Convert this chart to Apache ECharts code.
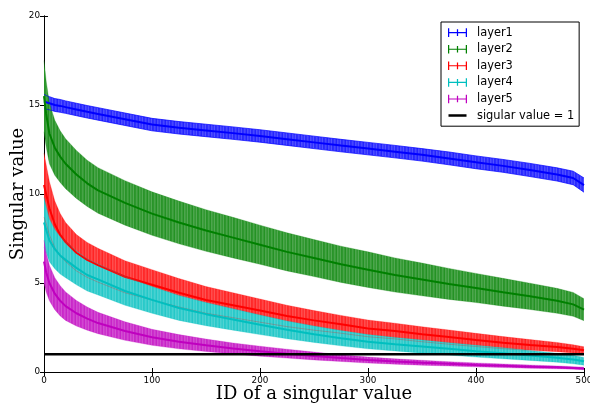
<!DOCTYPE html>
<html>
<head>
<meta charset="utf-8">
<script src="https://cdn.jsdelivr.net/npm/echarts@6/dist/echarts.min.js"></script>
<style>
  html, body { margin: 0; padding: 0; background: #fff; }
  #chart { width: 590px; height: 403px; }
</style>
</head>
<body>
<div id="chart"></div>
<script>
const ids = [0, 2, 5, 10, 15, 20, 30, 40, 50, 75, 100, 125, 150, 175, 200, 225, 250, 275, 300, 325, 350, 375, 400, 425, 450, 475, 490, 500];

const layer1Mean = [15.2, 15.15, 15.1, 15.0, 14.95, 14.88, 14.75, 14.62, 14.5, 14.2, 13.9, 13.72, 13.57, 13.42, 13.26, 13.08, 12.9, 12.72, 12.55, 12.38, 12.2, 12.0, 11.78, 11.58, 11.35, 11.1, 10.9, 10.5];
const layer1Err = [0.4, 0.38, 0.37, 0.36, 0.36, 0.35, 0.35, 0.35, 0.35, 0.35, 0.35, 0.35, 0.35, 0.35, 0.35, 0.35, 0.35, 0.35, 0.35, 0.35, 0.35, 0.36, 0.36, 0.36, 0.37, 0.37, 0.38, 0.4];

const layer2Mean = [15.5, 14.5, 13.4, 12.6, 12.1, 11.7, 11.1, 10.6, 10.2, 9.5, 8.9, 8.4, 7.95, 7.55, 7.15, 6.75, 6.4, 6.05, 5.75, 5.45, 5.2, 4.95, 4.72, 4.48, 4.25, 4.0, 3.8, 3.5];
const layer2Err = [2.0, 1.85, 1.7, 1.55, 1.45, 1.4, 1.35, 1.3, 1.28, 1.25, 1.22, 1.2, 1.17, 1.14, 1.1, 1.07, 1.04, 1.02, 1.0, 0.96, 0.92, 0.87, 0.82, 0.78, 0.74, 0.7, 0.67, 0.62];

const layer3Mean = [10.5, 10.0, 9.2, 8.3, 7.7, 7.3, 6.7, 6.3, 6.0, 5.35, 4.9, 4.45, 4.05, 3.75, 3.45, 3.15, 2.9, 2.68, 2.45, 2.3, 2.12, 1.96, 1.8, 1.65, 1.52, 1.4, 1.3, 1.22];
const layer3Err = [1.8, 1.65, 1.5, 1.3, 1.2, 1.1, 1.02, 0.98, 0.95, 0.9, 0.85, 0.8, 0.75, 0.7, 0.65, 0.6, 0.55, 0.5, 0.47, 0.44, 0.42, 0.4, 0.37, 0.34, 0.3, 0.26, 0.23, 0.2];

const layer4Mean = [8.4, 8.0, 7.4, 6.9, 6.55, 6.3, 5.85, 5.45, 5.2, 4.55, 4.05, 3.6, 3.25, 2.95, 2.65, 2.37, 2.12, 1.9, 1.7, 1.56, 1.43, 1.3, 1.17, 1.05, 0.93, 0.8, 0.7, 0.6];
const layer4Err = [1.4, 1.3, 1.2, 1.1, 1.05, 1.0, 0.95, 0.9, 0.87, 0.8, 0.75, 0.7, 0.65, 0.6, 0.55, 0.5, 0.46, 0.43, 0.4, 0.38, 0.37, 0.35, 0.33, 0.31, 0.28, 0.25, 0.24, 0.22];

const layer5Mean = [6.2, 5.6, 5.0, 4.4, 4.0, 3.7, 3.3, 3.0, 2.75, 2.3, 1.95, 1.7, 1.5, 1.32, 1.17, 1.03, 0.9, 0.78, 0.67, 0.59, 0.52, 0.46, 0.4, 0.35, 0.3, 0.26, 0.23, 0.2];
const layer5Err = [1.2, 1.1, 1.0, 0.9, 0.85, 0.8, 0.72, 0.65, 0.6, 0.52, 0.45, 0.4, 0.35, 0.31, 0.28, 0.25, 0.22, 0.19, 0.17, 0.15, 0.14, 0.12, 0.11, 0.1, 0.09, 0.08, 0.07, 0.07];

const thresholdValue = 1;
const thresholdName = 'sigular value = 1';
const xTicks = [0, 500, 100];   // min, max, step
const yTicks = [0, 20, 5];

(function () {
  const layers = [
    { name: 'layer1', mean: layer1Mean, err: layer1Err, rgb: [0, 0, 255], edge: 0.7 },
    { name: 'layer2', mean: layer2Mean, err: layer2Err, rgb: [0, 128, 0], edge: 0.25 },
    { name: 'layer3', mean: layer3Mean, err: layer3Err, rgb: [255, 0, 0], edge: 0.25 },
    { name: 'layer4', mean: layer4Mean, err: layer4Err, rgb: [0, 191, 191], edge: 0.25 },
    { name: 'layer5', mean: layer5Mean, err: layer5Err, rgb: [191, 0, 191], edge: 0.25 },
  ];

  const css = (rgb) => 'rgb(' + rgb.join(',') + ')';

  // fine vertical stripe texture, imitating hundreds of packed error bars
  const stripes = (rgb) => {
    const c = document.createElement('canvas');
    c.width = 9;
    c.height = 4;
    const ctx = c.getContext('2d');
    const mix = (a) => 'rgb(' + rgb.map((v) => Math.round(255 - (255 - v) * a)).join(',') + ')';
    [0.82, 0.72, 0.78, 0.86, 0.7, 0.76, 0.8, 0.68, 0.84].forEach((a, i) => {
      ctx.fillStyle = mix(a);
      ctx.fillRect(i, 0, 1, 4);
    });
    return { image: c, repeat: 'repeat' };
  };

  const barIcon = 'path://M0,4.4h20v1.2h-20z M0,0.5h1.3v9h-1.3z M18.7,0.5h1.3v9h-1.3z M9.35,1.5h1.3v7h-1.3z';
  const lineIcon = 'path://M0,0h0.01v0.01h-0.01z M0,3.6h20v2.8h-20z M19.99,9.99h0.01v0.01h-0.01z';

  const series = [];
  layers.forEach((layer) => {
    const fill = stripes(layer.rgb);
    series.push({
      type: 'custom',
      name: layer.name + ' band',
      silent: true,
      data: [[ids[0], layer.mean[0]]],
      encode: { x: 0, y: 1 },
      renderItem: (params, api) => {
        const upper = ids.map((id, i) => api.coord([id, layer.mean[i] + layer.err[i]]));
        const lower = ids.map((id, i) => api.coord([id, layer.mean[i] - layer.err[i]])).reverse();
        return { type: 'polygon', shape: { points: upper.concat(lower) }, style: { fill: fill } };
      },
    });
    [1, -1].forEach((sign) => {
      series.push({
        type: 'line',
        name: layer.name + ' cap',
        silent: true,
        symbol: 'none',
        data: ids.map((id, i) => [id, layer.mean[i] + sign * layer.err[i]]),
        lineStyle: { color: css(layer.rgb), width: 1, opacity: layer.edge },
      });
    });
    series.push({
      type: 'line',
      name: layer.name,
      symbol: 'none',
      data: ids.map((id, i) => [id, layer.mean[i]]),
      lineStyle: { color: css(layer.rgb), width: 2 },
      itemStyle: { color: css(layer.rgb) },
    });
  });

  series.push({
    type: 'line',
    name: thresholdName,
    symbol: 'none',
    data: [[xTicks[0], thresholdValue], [xTicks[1], thresholdValue]],
    lineStyle: { color: '#000', width: 2.6 },
    itemStyle: { color: '#000' },
  });

  const tickFont = { fontFamily: 'DejaVu Sans', fontSize: 8.8, color: '#000' };
  const titleFont = { fontFamily: 'DejaVu Serif', fontSize: 18, color: '#000' };
  const axisBase = (t) => ({
    type: 'value',
    min: t[0],
    max: t[1],
    interval: t[2],
    axisLine: { lineStyle: { color: '#000', width: 1 } },
    axisTick: { inside: true, length: 4, lineStyle: { color: '#000' } },
    splitLine: { show: false },
  });

  const option = {
    animation: false,
    backgroundColor: '#fff',
    grid: { left: 44, right: 6, top: 16, bottom: 31, containLabel: false, outerBoundsMode: 'none' },
    xAxis: [
      Object.assign(axisBase(xTicks), {
        position: 'bottom',
        axisLabel: Object.assign({ margin: 4 }, tickFont),
        name: 'ID of a singular value',
        nameLocation: 'middle',
        nameGap: 13,
        nameMoveOverlap: false,
        nameTextStyle: titleFont,
      }),
      Object.assign(axisBase(xTicks), { position: 'top', axisLabel: { show: false } }),
    ],
    yAxis: [
      Object.assign(axisBase(yTicks), {
        position: 'left',
        axisLabel: Object.assign({ margin: 4 }, tickFont),
        name: 'Singular value',
        nameLocation: 'middle',
        nameGap: 17,
        nameMoveOverlap: false,
        nameTextStyle: titleFont,
      }),
      Object.assign(axisBase(yTicks), { position: 'right', axisLabel: { show: false } }),
    ],
    legend: {
      orient: 'vertical',
      left: 441,
      top: 22,
      padding: [4.6, 5, 4.6, 7],
      itemGap: 4.6,
      itemWidth: 19,
      itemHeight: 9,
      selectedMode: false,
      borderColor: '#000',
      borderWidth: 1,
      borderRadius: 0,
      backgroundColor: '#fff',
      textStyle: { fontFamily: 'DejaVu Sans', fontSize: 11.4, lineHeight: 12, color: '#000', padding: [0, 0, 0, 5] },
      data: layers.map((l) => ({ name: l.name, icon: barIcon }))
        .concat([{ name: thresholdName, icon: lineIcon }]),
    },
    series,
  };

  const chart = echarts.init(document.getElementById('chart'));
  chart.setOption(option);
})();
</script>
</body>
</html>
